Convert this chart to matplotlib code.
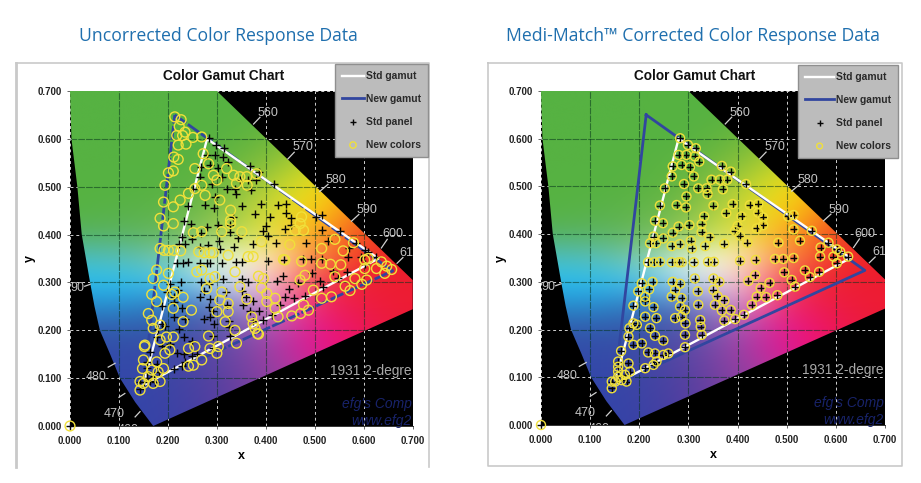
import numpy as np
import matplotlib
matplotlib.use('Agg')
import matplotlib.pyplot as plt
from matplotlib.lines import Line2D
from matplotlib.patches import Polygon

plt.rcParams['font.family'] = ['Liberation Sans', 'DejaVu Sans']

W, H = 921, 483

std_gamut_x = [0.28, 0.63, 0.15, 0.28]
std_gamut_y = [0.60, 0.35, 0.085, 0.60]
new_gamut_x = [0.214, 0.659, 0.15, 0.214]
new_gamut_y = [0.650, 0.324, 0.085, 0.650]

# measured panel colours, same for both charts
std_panel = [
    (0, 0), (.283, .601), (.299, .587), (.315, .580), (.296, .566), (.280, .566), (.322, .552), (.313, .563),
    (.268, .542), (.286, .545), (.303, .540), (.311, .521), (.266, .521), (.252, .496), (.291, .505),
    (.320, .496), (.337, .496), (.339, .484), (.368, .543), (.386, .531), (.347, .514), (.364, .514),
    (.379, .514), (.370, .494), (.417, .505), (.296, .479), (.295, .456), (.276, .461), (.242, .460),
    (.351, .460), (.390, .463), (.377, .444), (.425, .461), (.442, .463), (.408, .437), (.442, .445),
    (.452, .435), (.452, .419), (.439, .412), (.400, .417), (.395, .407), (.405, .397), (.332, .437),
    (.327, .421), (.327, .405), (.302, .419), (.280, .416), (.268, .403), (.248, .423), (.232, .428),
    (.229, .395), (.249, .391), (.222, .381), (.234, .381), (.266, .375), (.282, .379), (.305, .386),
    (.307, .370), (.334, .375), (.343, .393), (.373, .380), (.420, .382),
    (.218, .341), (.230, .341), (.242, .342), (.266, .341), (.280, .341), (.286, .341), (.311, .341),
    (.340, .342), (.352, .342), (.405, .344), (.437, .346), (.476, .348), (.493, .348), (.514, .350),
    (.483, .382), (.527, .386), (.503, .437), (.514, .440), (.514, .410), (.551, .407), (.585, .382),
    (.569, .372), (.568, .353), (.602, .368), (.609, .363), (.625, .353), (.595, .353), (.602, .339),
    (.537, .324), (.547, .310), (.566, .321), (.495, .320), (.510, .304), (.517, .290), (.465, .298),
    (.436, .314), (.422, .302), (.447, .287), (.439, .269), (.458, .268), (.481, .272),
    (.429, .252), (.413, .231), (.395, .222), (.373, .219), (.386, .241), (.368, .240), (.354, .252),
    (.373, .261), (.359, .270), (.351, .283), (.363, .300), (.351, .307), (.319, .280), (.313, .307),
    (.320, .252), (.283, .296), (.268, .300), (.273, .283), (.266, .269), (.227, .300), (.220, .284),
    (.205, .297), (.198, .280), (.212, .269), (.212, .259), (.229, .247), (.188, .250), (.212, .227),
    (.235, .224), (.222, .203), (.232, .187), (.249, .177), (.188, .213), (.180, .203), (.195, .210),
    (.178, .185), (.188, .168), (.205, .171), (.163, .155), (.178, .129), (.157, .133), (.218, .152),
    (.232, .150), (.235, .133), (.229, .126), (.212, .119), (.249, .147), (.259, .150), (.293, .163),
    (.324, .220), (.325, .206), (.327, .189), (.293, .189), (.294, .213), (.286, .227), (.273, .224),
    (.283, .248), (.286, .266), (.293, .241),
    (.144, .077), (.151, .091), (.164, .094), (.157, .112), (.171, .105), (.181, .112), (.174, .091),
    (.157, .101), (.144, .091), (.157, .122),
]

new_colors_left = [
    (0, 0), (.214, .646), (.227, .640), (.223, .626), (.235, .614), (.218, .607), (.230, .607), (.251, .603),
    (.269, .604), (.221, .587), (.237, .589), (.212, .562), (.221, .557), (.272, .569), (.255, .538),
    (.211, .533), (.201, .529), (.283, .548), (.320, .538), (.334, .524), (.347, .521), (.361, .521),
    (.381, .527), (.362, .503), (.340, .507), (.293, .524), (.300, .514), (.269, .503), (.255, .496),
    (.242, .486), (.225, .472), (.211, .458), (.191, .468), (.194, .503), (.276, .482), (.306, .472),
    (.328, .451), (.328, .430), (.328, .423), (.310, .406), (.269, .406), (.252, .404), (.211, .423),
    (.191, .418), (.184, .434), (.184, .371), (.192, .367), (.201, .367), (.212, .367), (.226, .366),
    (.263, .364), (.274, .362), (.286, .362), (.293, .362), (.323, .357), (.364, .354), (.374, .354),
    (.177, .326), (.201, .319), (.170, .308), (.191, .294), (.214, .280), (.208, .275), (.231, .269),
    (.167, .275), (.177, .260), (.259, .322), (.269, .326), (.286, .308), (.296, .312), (.279, .287),
    (.310, .280), (.306, .263), (.323, .256), (.337, .322), (.347, .291), (.361, .265), (.385, .313),
    (.395, .308), (.391, .289), (.402, .277), (.402, .260), (.419, .267), (.419, .246), (.425, .228),
    (.371, .228), (.374, .214), (.378, .204), (.383, .193), (.385, .192), (.340, .173), (.337, .200),
    (.317, .218), (.323, .239), (.300, .239), (.283, .188), (.248, .242), (.231, .218), (.211, .246),
    (.197, .186), (.211, .186), (.204, .159), (.194, .152), (.184, .180), (.160, .235), (.167, .221),
    (.170, .204), (.184, .211), (.153, .169), (.152, .166), (.150, .138), (.148, .120), (.167, .117),
    (.177, .134), (.180, .113), (.191, .120), (.160, .103), (.170, .089), (.184, .093), (.143, .093),
    (.143, .075), (.150, .089), (.242, .162), (.255, .166), (.286, .162), (.303, .166), (.300, .152),
    (.269, .138), (.252, .127), (.242, .125),
    (.449, .379), (.473, .344), (.439, .347), (.514, .371), (.541, .390), (.558, .366), (.579, .383),
    (.514, .340), (.532, .338), (.553, .337), (.541, .312), (.562, .292), (.572, .283), (.582, .308),
    (.602, .329), (.606, .305), (.596, .296), (.609, .350), (.602, .347), (.626, .329), (.636, .343),
    (.647, .334), (.657, .327), (.643, .319), (.480, .315), (.470, .305), (.497, .284), (.514, .267),
    (.534, .270), (.487, .242), (.477, .253), (.453, .230), (.471, .235), (.473, .437), (.470, .423),
    (.460, .409), (.477, .409), (.391, .385), (.351, .406), (.436, .348),
]

# corrected colours land on the panel points
new_colors_right = std_panel

# outline of the coloured area
locus_x = [0.0, 0.003, 0.015, 0.024, 0.041, 0.050, 0.061, 0.082, 0.102, 0.133, 0.17, 0.70, 0.70, 0.30]
locus_y = [0.7, 0.60, 0.50, 0.40, 0.30, 0.25, 0.20, 0.15, 0.10, 0.05, 0.0, 0.244, 0.305, 0.70]

# background colours, rows y=0..0.7 every 0.05, columns x=0..0.7 every 0.1
G = (86, 178, 66)
bg_colors = np.array([
    [(50, 70, 170), (50, 70, 170), (55, 65, 165), (80, 60, 160), (125, 60, 155), (180, 50, 150), (232, 20, 110), (237, 28, 60)],
    [(50, 70, 170), (50, 70, 170), (58, 68, 165), (82, 62, 160), (130, 62, 158), (185, 55, 155), (234, 22, 105), (237, 28, 60)],
    [(50, 72, 170), (50, 72, 170), (60, 70, 165), (85, 65, 160), (135, 65, 160), (190, 60, 160), (236, 22, 100), (237, 28, 55)],
    [(50, 75, 170), (50, 75, 170), (60, 75, 165), (90, 70, 165), (150, 70, 165), (225, 20, 150), (237, 20, 100), (237, 28, 52)],
    [(50, 90, 170), (50, 90, 170), (55, 85, 170), (85, 85, 170), (160, 90, 180), (235, 20, 145), (237, 22, 85), (237, 28, 50)],
    [(40, 140, 205), (40, 140, 205), (50, 120, 190), (90, 120, 190), (220, 150, 210), (237, 35, 110), (237, 28, 65), (237, 28, 50)],
    [(40, 190, 240), (40, 190, 240), (70, 190, 235), (185, 225, 245), (255, 205, 220), (240, 60, 80), (237, 30, 50), (237, 28, 50)],
    [(75, 190, 195), (85, 190, 190), (120, 200, 170), (235, 248, 225), (255, 245, 195), (250, 140, 60), (240, 50, 40), (237, 28, 40)],
    [(88, 178, 100), (90, 178, 100), (105, 183, 95), (160, 205, 90), (235, 235, 70), (255, 170, 30), (240, 70, 35), (237, 40, 35)],
    [G, (88, 178, 72), (95, 180, 75), (125, 190, 75), (210, 220, 60), (255, 215, 10), (245, 110, 30), (240, 70, 30)],
    [G, G, (88, 178, 66), (105, 182, 65), (175, 205, 60), (245, 230, 20), (255, 160, 20), (250, 110, 20)],
    [G, G, G, (95, 180, 66), (130, 190, 60), (200, 215, 40), (240, 225, 20), (255, 180, 10)],
    [G, G, G, G, (105, 182, 62), (150, 195, 50), (200, 215, 40), (240, 225, 20)],
    [G, G, G, G, (90, 178, 64), (105, 182, 62), (150, 195, 50), (200, 215, 40)],
    [G, G, G, G, G, (90, 178, 64), (105, 182, 62), (150, 195, 50)],
], dtype=float) / 255

ticks = [0, .1, .2, .3, .4, .5, .6, .7]

# wavelength labels printed on the diagram: text, x, y
wave_labels = [('560', .405, .653), ('570', .476, .582), ('580', .543, .514), ('590', .606, .451),
               ('600', .659, .401), ('61', .688, .362), ('90', .015, .289), ('480', .054, .103),
               ('470', .090, .026), ('460', .118, -.008)]
wave_marks = [((.375, .631), (.388, .645)), ((.445, .558), (.458, .572)), ((.510, .490), (.527, .505)),
              ((.575, .428), (.590, .442)), ((.636, .372), (.648, .390)), ((.668, .340), (.680, .352)),
              ((.030, .292), (.041, .296)), ((.078, .123), (.092, .131)), ((.133, .019), (.143, .030)),
              ((.100, .060), (.112, .068))]

fig = plt.figure(figsize=(W / 100, H / 100), dpi=100, facecolor='white')


def fig_box(x0, y0, x1, y1):
    return [x0 / W, 1 - y1 / H, (x1 - x0) / W, (y1 - y0) / H]


def frame_line(xs, ys, lw):
    fig.add_artist(Line2D([x / W for x in xs], [1 - y / H for y in ys], color='#c9c9c9', lw=lw, zorder=-1))


def draw_chart(box, new_pts, title_x, legend_box, blue_ls, mark_size):
    ax = fig.add_axes(fig_box(*box))
    ax.set_facecolor('black')
    ax.set_xlim(0, .7)
    ax.set_ylim(0, .7)
    ax.set_axisbelow(True)
    # white dashes show on the black part, the image covers them elsewhere
    ax.grid(True, color='#cfcfcf', ls=(0, (3, 3)), lw=0.7, zorder=0)
    img = ax.imshow(bg_colors, origin='lower', extent=(-.05, .75, -.025, .725), aspect='auto',
                    interpolation='bicubic', zorder=1)
    clip = Polygon(np.column_stack([locus_x, locus_y]), closed=True, transform=ax.transData)
    img.set_clip_path(clip)
    ax.set_xlim(0, .7)
    ax.set_ylim(0, .7)
    for v in ticks[1:-1]:
        ax.axvline(v, color='#06351c', ls=(0, (6, 1)), lw=0.8, alpha=.55, zorder=2, clip_path=clip)
        ax.axhline(v, color='#06351c', ls=(0, (6, 1)), lw=0.8, alpha=.55, zorder=2, clip_path=clip)

    for txt, x, y in wave_labels:
        ax.text(x, y, txt, color='#c4c4c4', fontsize=9, ha='center', va='center', clip_on=True, zorder=3)
    for a, b in wave_marks:
        ax.plot([a[0], b[0]], [a[1], b[1]], color='#d0d0d0', lw=0.9, zorder=3)
    ax.text(.531, .115, '1931 2-degre', color='#a8a8a8', fontsize=9.9, va='center', zorder=3)
    ax.text(.555, .047, "efg's Comp", color='#18236a', fontsize=10, style='italic', va='center', zorder=3)
    ax.text(.575, .011, 'www.efg2', color='#18236a', fontsize=10, style='italic', va='center', zorder=3)

    l1, = ax.plot(std_gamut_x, std_gamut_y, color='white', lw=1.7, zorder=5)
    ax.plot(new_gamut_x, new_gamut_y, color='#31469f', lw=2.0, ls=blue_ls, zorder=4)
    l2 = Line2D([], [], color='#31469f', lw=2.0)
    sx, sy = zip(*std_panel)
    nx, ny = zip(*new_pts)
    s1 = ax.scatter(sx, sy, marker='+', s=32, color='#050505', linewidths=1.0, zorder=6, clip_on=False)
    s2 = ax.scatter(nx, ny, marker='o', s=mark_size, facecolors='none', edgecolors='#f0e03a', linewidths=1.0,
                    zorder=7, clip_on=False)

    ax.set_xticks(ticks)
    ax.set_yticks(ticks)
    ax.set_xticklabels(['%.3f' % t for t in ticks])
    ax.set_yticklabels(['%.3f' % t for t in ticks])
    ax.tick_params(labelsize=7, length=2.5, width=0.7, color='#666666', labelcolor='#222222')
    ax.tick_params(axis='x', pad=4.5)
    for lab in ax.get_xticklabels() + ax.get_yticklabels():
        lab.set_fontweight('bold')
    ax.set_xlabel('x', fontsize=9, fontweight='bold', labelpad=3)
    ax.set_ylabel('y', fontsize=9, fontweight='bold', labelpad=1)
    for name, s in ax.spines.items():
        s.set_visible(name == 'bottom')
        s.set_color('#111111')
        s.set_linewidth(0.6)

    fig.text(title_x / W, 1 - 75.5 / H, 'Color Gamut Chart', fontsize=9.8, fontweight='bold', ha='center',
             va='center', color='#111111')

    leg = fig.legend([l1, l2, s1, s2], ['Std gamut', 'New gamut', 'Std panel', 'New colors'],
                     loc='upper left', bbox_to_anchor=(legend_box[0] / W, 1 - legend_box[1] / H),
                     borderaxespad=0, prop={'weight': 'bold', 'size': 7.4}, labelspacing=1.25,
                     handlelength=legend_box[2], handletextpad=0.2, borderpad=0.7, fancybox=False,
                     framealpha=1, facecolor='#bcbcbc', edgecolor='#8f8f8f', scatterpoints=1, markerscale=0.65)
    for t in leg.get_texts():
        t.set_color('#2a2a2a')
    leg.set_zorder(10)
    return ax


draw_chart((70, 91, 412.7, 426), new_colors_left, 224, (335, 64, 2.1), (0, (5, 0.8)), 50)
draw_chart((541, 91, 885, 425), new_colors_right, 695, (798, 65, 2.8), '-', 42)

# chart frames: the left one has no bottom edge
frame_line([16, 16], [63, 467], 2.0)
frame_line([16, 429, 429], [63, 63, 467], 1.2)
frame_line([488, 488, 902, 902, 488], [63, 466, 466, 63, 63], 1.2)

fig.text(218 / W, 1 - 36 / H, 'Uncorrected Color Response Data', fontsize=12.7, color='#1f6fae',
         family='Open Sans', ha='center', va='center')
fig.text(693 / W, 1 - 36 / H, 'Medi-Match\u2122 Corrected Color Response Data', fontsize=12.7, color='#1f6fae',
         family='Open Sans', ha='center', va='center')

fig.savefig('out.png', dpi=100)
